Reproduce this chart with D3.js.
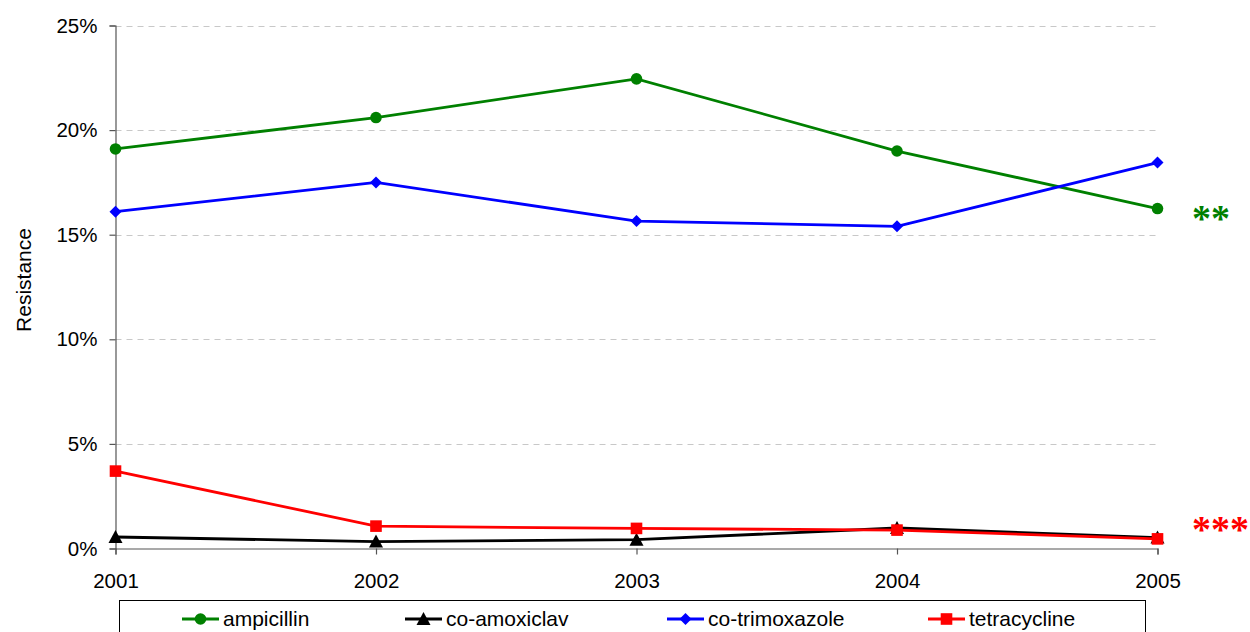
<!DOCTYPE html>
<html>
<head>
<meta charset="utf-8">
<script src="https://cdn.jsdelivr.net/npm/d3@7.9.0/dist/d3.min.js"></script>
<style>
  body { margin: 0; background: #fff; }
  svg { display: block; font-family: Arial, "Liberation Sans", sans-serif; }
</style>
</head>
<body>
<svg id="chart" width="1250" height="632"></svg>
<script>
// data
const years = [2001, 2002, 2003, 2004, 2005];
const ampicillin = [19.1, 20.6, 22.45, 19.0, 16.25];
const coAmoxiclav = [0.55, 0.33, 0.42, 0.98, 0.52];
const coTrimoxazole = [16.1, 17.5, 15.65, 15.4, 18.45];
const tetracycline = [3.7, 1.07, 0.96, 0.88, 0.46];
const yTicks = [0, 5, 10, 15, 20, 25];

const series = [
  { name: "ampicillin", values: ampicillin, color: "#008000", marker: "circle" },
  { name: "co-amoxiclav", values: coAmoxiclav, color: "#000000", marker: "triangle" },
  { name: "co-trimoxazole", values: coTrimoxazole, color: "#0000ff", marker: "diamond" },
  { name: "tetracycline", values: tetracycline, color: "#ff0000", marker: "square" }
];

const svg = d3.select("#chart");
const x = d3.scalePoint().domain(years).range([115.5, 1157.5]);
const y = d3.scaleLinear().domain([0, 25]).range([548.5, 25.5]);

// gridlines
svg.append("g")
  .selectAll("line")
  .data(yTicks.filter(d => d > 0))
  .join("line")
  .attr("x1", 115.5).attr("x2", 1157.5)
  .attr("y1", d => Math.round(y(d)) + 0.5)
  .attr("y2", d => Math.round(y(d)) + 0.5)
  .attr("stroke", "#c8c8c8")
  .attr("stroke-dasharray", "6,5");

// axes
const yAxis = svg.append("g")
  .attr("transform", "translate(115.5,0)")
  .call(d3.axisLeft(y).tickValues(yTicks).tickFormat(d => d + "%").tickSizeOuter(0).tickSize(6).tickPadding(12));
yAxis.selectAll("text").attr("font-size", 20.5).attr("fill", "#000").attr("font-family", "Arial, 'Liberation Sans', sans-serif");

const xAxis = svg.append("g")
  .attr("transform", "translate(0,548.5)")
  .call(d3.axisBottom(x).tickSizeOuter(0).tickSize(6).tickPadding(19));
xAxis.selectAll("text").attr("font-size", 20.5).attr("fill", "#000").attr("font-family", "Arial, 'Liberation Sans', sans-serif");

svg.selectAll(".domain, .tick line").attr("stroke", "#555").attr("stroke-width", 1.2);

svg.append("text")
  .attr("transform", "translate(31,280) rotate(-90)")
  .attr("text-anchor", "middle")
  .attr("font-size", 21)
  .text("Resistance");

// markers
function drawMarker(sel, type, color, s) {
  if (type === "circle") {
    sel.append("circle").attr("r", 5.8 * s).attr("fill", color);
  } else if (type === "triangle") {
    const h = 7 * s;
    sel.append("path").attr("d", `M0,${-h} L${h},${h * 0.85} L${-h},${h * 0.85} Z`).attr("fill", color);
  } else if (type === "diamond") {
    const h = 6 * s;
    sel.append("path").attr("d", `M0,${-h} L${h},0 L0,${h} L${-h},0 Z`).attr("fill", color);
  } else {
    const h = 5.8 * s;
    sel.append("rect").attr("x", -h).attr("y", -h).attr("width", 2 * h).attr("height", 2 * h).attr("fill", color);
  }
}

const line = d3.line().x((d, i) => x(years[i])).y(d => y(d));

// draw in order so red sits on top of black like the reference
const drawOrder = [series[0], series[2], series[1], series[3]];
drawOrder.forEach(s => {
  svg.append("path")
    .datum(s.values)
    .attr("d", line)
    .attr("fill", "none")
    .attr("stroke", s.color)
    .attr("stroke-width", 2.8);
  s.values.forEach((v, i) => {
    const g = svg.append("g").attr("transform", `translate(${x(years[i])},${y(v)})`);
    drawMarker(g, s.marker, s.color, 1);
  });
});

// significance asterisks
svg.append("text")
  .attr("x", 1192).attr("y", y(ampicillin[4]) + 22)
  .attr("font-family", "'Liberation Serif', 'DejaVu Serif', serif")
  .attr("font-weight", "bold")
  .attr("font-size", 38)
  .attr("fill", "#008000")
  .text("**");
svg.append("text")
  .attr("x", 1192).attr("y", y(tetracycline[4]) + 3)
  .attr("font-family", "'Liberation Serif', 'DejaVu Serif', serif")
  .attr("font-weight", "bold")
  .attr("font-size", 38)
  .attr("fill", "#ff0000")
  .text("***");

// legend
const legend = svg.append("g");
legend.append("rect")
  .attr("x", 119.5).attr("y", 600.5)
  .attr("width", 1026).attr("height", 60)
  .attr("fill", "#fff").attr("stroke", "#000").attr("stroke-width", 1);

const legendX = [182, 405, 667, 928];
series.forEach((s, i) => {
  const g = legend.append("g").attr("transform", `translate(${legendX[i]},619)`);
  g.append("line").attr("x1", 0).attr("x2", 37).attr("stroke", s.color).attr("stroke-width", 2.8);
  drawMarker(g.append("g").attr("transform", "translate(18.5,0)"), s.marker, s.color, 1);
  g.append("text")
    .attr("x", 41).attr("y", 7)
    .attr("font-size", 21)
    .text(s.name);
});
</script>
</body>
</html>
